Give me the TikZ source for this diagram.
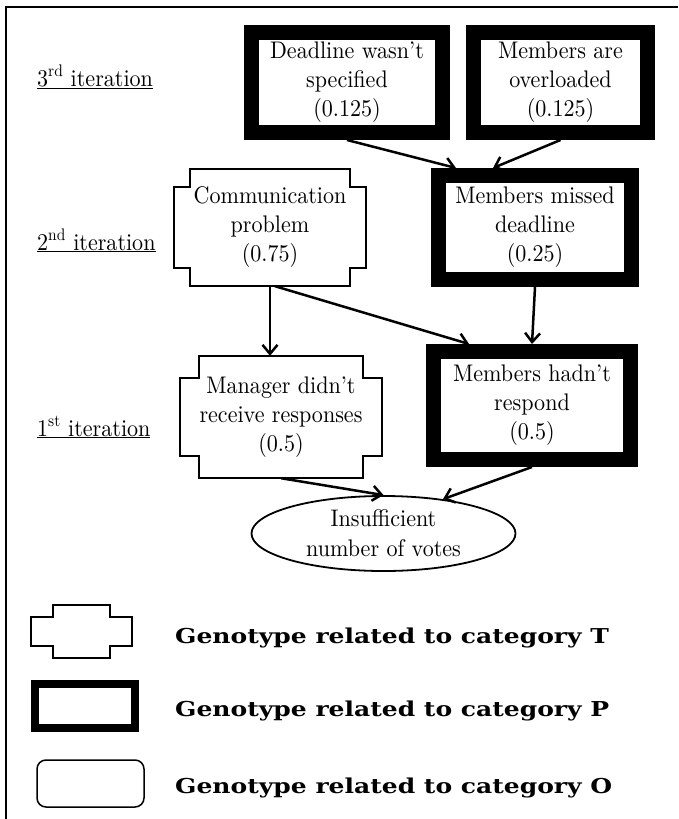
\documentclass[tikz,border=0pt]{standalone}
\usepackage{fontspec}
\usetikzlibrary{arrows.meta,shapes.geometric,calc}
\newfontfamily\nodefont{lmroman10-regular.otf}[FakeStretch=0.92]
\newfontfamily\legendfont{DejaVu Serif}[FakeStretch=1.22]

% notched outline around a (borderless) node: #1 node, #2 side inset, #3 notch depth
\newcommand\notchoutline[3]{%
  \draw[notchline]
    ([xshift=#2]#1.north west) -- ([xshift=-#2]#1.north east)
    -- ([xshift=-#2,yshift=-#3]#1.north east) -- ([yshift=-#3]#1.north east)
    -- ([yshift=#3]#1.south east) -- ([xshift=-#2,yshift=#3]#1.south east)
    -- ([xshift=-#2]#1.south east) -- ([xshift=#2]#1.south west)
    -- ([xshift=#2,yshift=#3]#1.south west) -- ([yshift=#3]#1.south west)
    -- ([yshift=-#3]#1.north west) -- ([xshift=#2,yshift=-#3]#1.north west)
    -- cycle;}

\tikzset{
  txt/.style={font=\nodefont\fontsize{24}{29}\selectfont, align=center, inner sep=0pt},
  pbox/.style={txt, draw, line width=15pt},
  tbox/.style={txt},
  notchline/.style={line width=2pt, line join=miter},
  obox/.style={txt, draw, line width=1.8pt, ellipse},
  arr/.style={line width=2.5pt, -{Straight Barb[length=9pt,width=15pt]}},
  iterlabel/.style={font=\nodefont\fontsize{24}{29}\selectfont, anchor=base west, inner sep=0pt},
  legtext/.style={font=\legendfont\bfseries\fontsize{20.5}{24}\selectfont, anchor=base west, inner sep=0pt},
  frame/.style={line width=2pt}
}

\begin{document}
\begin{tikzpicture}[x=1pt,y=-1pt]
\useasboundingbox (0,0) rectangle (678,819);
\draw[frame] (678,7) -- (6,7) -- (6,819);

% iteration labels
\node[iterlabel] (it3) at (37,86)  {$\underline{\hbox{3\textsuperscript{rd} iteration}}$};
\node[iterlabel] (it2) at (37,250) {$\underline{\hbox{2\textsuperscript{nd} iteration}}$};
\node[iterlabel] (it1) at (37,436) {$\underline{\hbox{1\textsuperscript{st} iteration}}$};

% third iteration
\node[pbox, minimum width=191pt, minimum height=100pt] (dl) at (347,82.5)
  {Deadline wasn’t\\specified\\(0.125)};
\node[pbox, minimum width=174pt, minimum height=100pt] (mo) at (560.5,82.5)
  {Members are\\overloaded\\(0.125)};

% second iteration
\node[tbox, minimum width=192pt, minimum height=117pt] (cp) at (270,227.5)
  {Communication\\problem\\(0.75)};
\notchoutline{cp}{16pt}{18pt}
\node[pbox, minimum width=193pt, minimum height=104pt] (md) at (535,227.5)
  {Members missed\\deadline\\(0.25)};

% first iteration
\node[tbox, minimum width=202pt, minimum height=122pt] (mr) at (281,417)
  {Manager didn’t\\receive responses\\(0.5)};
\notchoutline{mr}{19pt}{22pt}
\node[pbox, minimum width=197pt, minimum height=108pt] (mh) at (532,405.5)
  {Members hadn’t\\respond\\(0.5)};

% outcome
\node[obox, minimum width=264pt, minimum height=75pt, font=\nodefont\fontsize{24}{30}\selectfont] (ins) at (383.5,533.5)
  {Insufficient\\number of votes};

% connectors
\draw[arr] (dl.south) -- ([xshift=25pt]md.north west);
\draw[arr] (mo.south) -- ([xshift=-42pt]md.north);
\draw[arr] (cp.south) -- (cp.south |- mr.north);
\draw[arr] ([xshift=5pt]cp.south) -- ([xshift=-63pt]mh.north);
\draw[arr] (md.south) -- (mh.north);
\draw[arr] (mr.south) -- (ins.north);
\draw[arr] (mh.south) -- (ins.30);

% legend
\node[tbox, minimum width=101pt, minimum height=53pt] (lt) at (81.5,631.5) {};
\notchoutline{lt}{22pt}{12pt}
\node[draw, line width=8pt, minimum width=100pt, minimum height=44pt, inner sep=0pt] (lp) at (85,706) {};
\node[draw, line width=1.5pt, rounded corners=9pt, minimum width=107pt, minimum height=47pt, inner sep=0pt] (lo) at (90.5,783.5) {};
\node[legtext] (ltt) at (175,643) {Genotype related to category T};
\node[legtext] (lpt) at (175,716) {Genotype related to category P};
\node[legtext] (lot) at (175,793) {Genotype related to category O};
\end{tikzpicture}
\end{document}
